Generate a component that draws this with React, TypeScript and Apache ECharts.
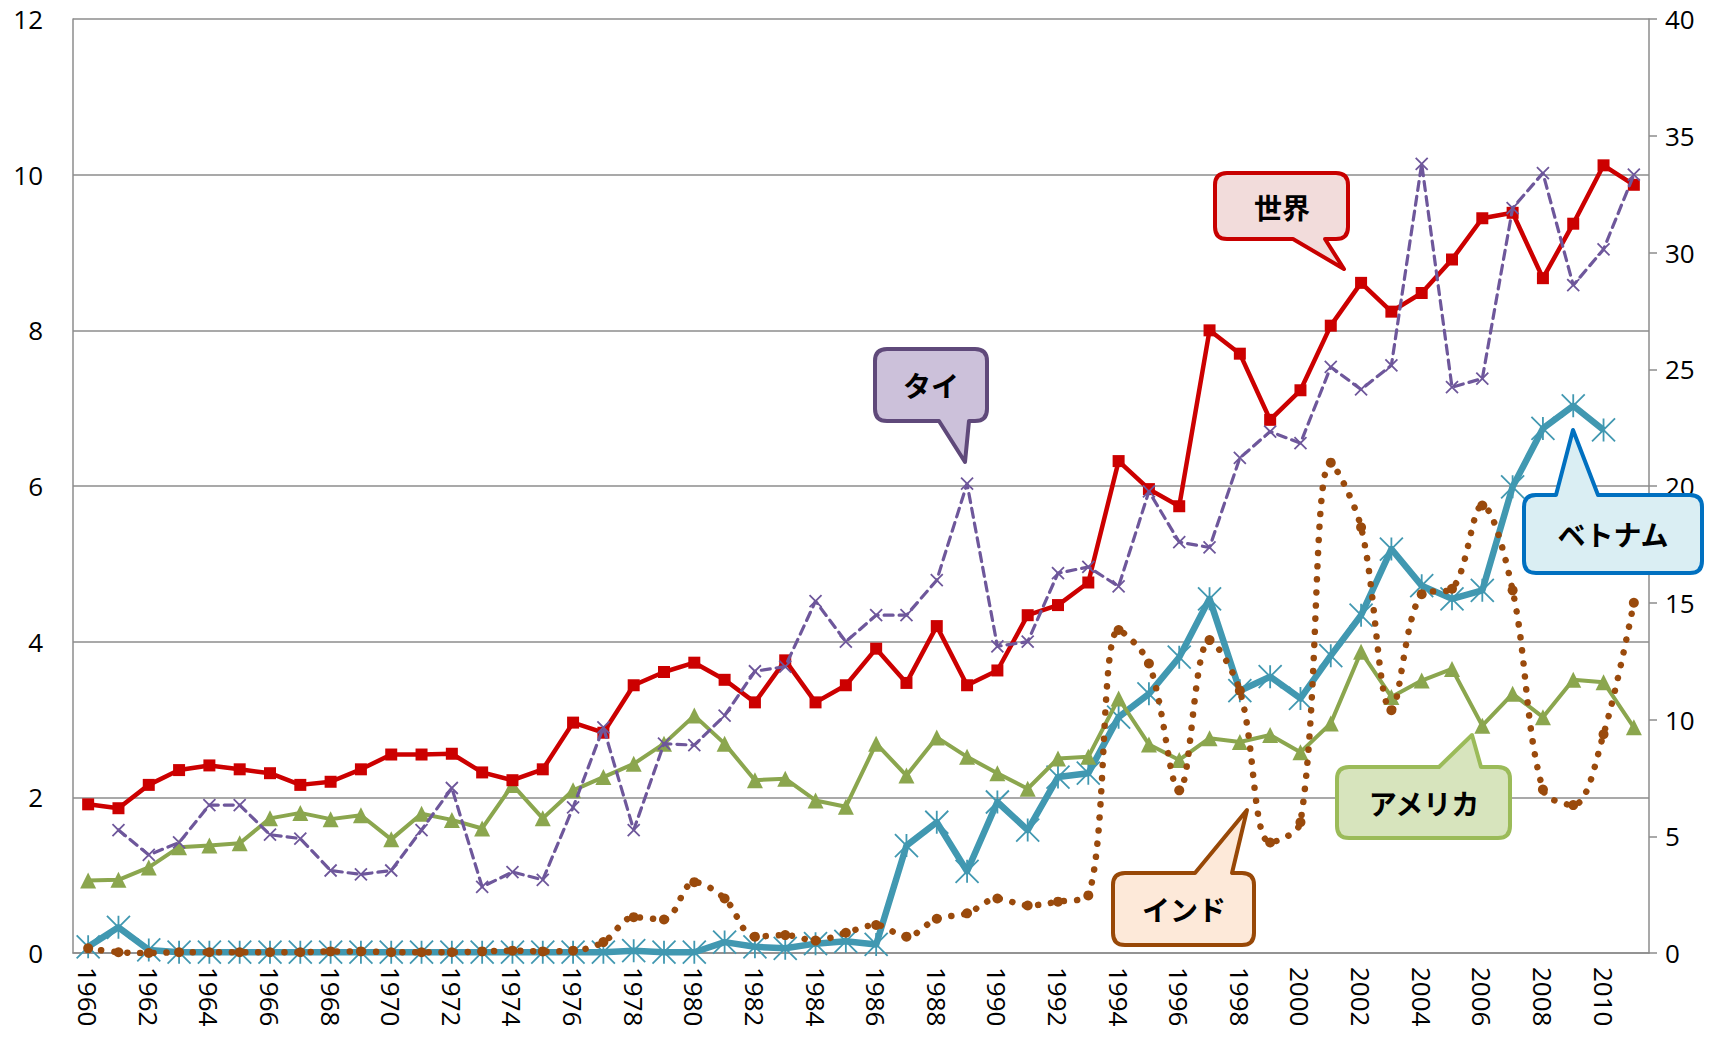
import React, { useEffect, useRef } from "react";
import * as echarts from "echarts";

const years = [
  "1960","1961","1962","1963","1964","1965","1966","1967","1968","1969",
  "1970","1971","1972","1973","1974","1975","1976","1977","1978","1979",
  "1980","1981","1982","1983","1984","1985","1986","1987","1988","1989",
  "1990","1991","1992","1993","1994","1995","1996","1997","1998","1999",
  "2000","2001","2002","2003","2004","2005","2006","2007","2008","2009",
  "2010","2011",
];

const world = [
  1.91, 1.86, 2.16, 2.35, 2.41, 2.36, 2.31, 2.16, 2.2, 2.36,
  2.55, 2.55, 2.56, 2.32, 2.22, 2.36, 2.96, 2.83, 3.44, 3.61,
  3.73, 3.51, 3.22, 3.76, 3.22, 3.44, 3.91, 3.47, 4.2, 3.44,
  3.63, 4.34, 4.47, 4.76, 6.32, 5.96, 5.74, 8.0, 7.7, 6.85,
  7.23, 8.06, 8.61, 8.24, 8.48, 8.91, 9.44, 9.51, 8.67, 9.37,
  10.12, 9.87,
];

const thai = [
  null, 1.58, 1.26, 1.42, 1.9, 1.9, 1.52, 1.47, 1.06, 1.01,
  1.06, 1.58, 2.12, 0.85, 1.04, 0.94, 1.87, 2.9, 1.58, 2.69,
  2.67, 3.05, 3.62, 3.68, 4.52, 4.0, 4.34, 4.34, 4.79, 6.03,
  3.94, 4.0, 4.88, 4.96, 4.71, 5.93, 5.28, 5.21, 6.36, 6.7,
  6.55, 7.53, 7.24, 7.55, 10.14, 7.27, 7.38, 9.57, 10.02, 8.58,
  9.04, 10.0,
];

const vietnam = [
  0.08, 0.33, 0.04, 0.01, 0.01, 0.01, 0.01, 0.01, 0.01, 0.01,
  0.01, 0.01, 0.01, 0.01, 0.01, 0.01, 0.01, 0.01, 0.03, 0.01,
  0.01, 0.14, 0.08, 0.06, 0.12, 0.15, 0.11, 1.38, 1.68, 1.05,
  1.94, 1.58, 2.26, 2.31, 3.03, 3.33, 3.8, 4.55, 3.37, 3.55,
  3.27, 3.82, 4.34, 5.19, 4.72, 4.55, 4.66, 5.99, 6.74, 7.03,
  6.72, null,
];

const india = [
  0.06, 0.01, 0.0, 0.01, 0.01, 0.01, 0.01, 0.01, 0.02, 0.02,
  0.01, 0.01, 0.01, 0.02, 0.03, 0.02, 0.03, 0.14, 0.46, 0.43,
  0.91, 0.7, 0.21, 0.23, 0.16, 0.26, 0.36, 0.21, 0.44, 0.51,
  0.7, 0.61, 0.66, 0.74, 4.15, 3.72, 2.09, 4.02, 3.37, 1.42,
  1.68, 6.3, 5.47, 3.12, 4.61, 4.68, 5.75, 4.66, 2.1, 1.9,
  2.81, 4.5,
];

const usa = [
  0.93, 0.94, 1.1, 1.36, 1.38, 1.41, 1.73, 1.8, 1.72, 1.77,
  1.46, 1.79, 1.71, 1.6, 2.16, 1.73, 2.09, 2.26, 2.43, 2.69,
  3.05, 2.69, 2.22, 2.24, 1.96, 1.88, 2.69, 2.28, 2.77, 2.52,
  2.31, 2.11, 2.5, 2.52, 3.27, 2.68, 2.48, 2.76, 2.71, 2.8,
  2.58, 2.95, 3.87, 3.29, 3.5, 3.65, 2.92, 3.33, 3.03, 3.51,
  3.48, 2.9,
];

const leftMax = 12;
const leftStep = 2;
const rightMax = 40;
const rightStep = 5;

const C_WORLD = "#CC0000";
const C_THAI = "#6E579B";
const C_VIET = "#4198B1";
const C_INDIA = "#9A4A0C";
const C_USA = "#8BA64E";
const GRID_GRAY = "#8C8C8C";

type Callout = {
  id: string;
  text: string;
  x: number; y: number; w: number; h: number;
  edge: "top" | "bottom";
  b1: number; b2: number; tx: number; ty: number;
  fill: string; stroke: string;
  cx: number; cy: number;
};

const callouts: Callout[] = [
  { id: "co_world", text: "世界", x: 1215, y: 173, w: 133, h: 66, edge: "bottom", b1: 1293, b2: 1325, tx: 1344, ty: 269, fill: "#F2DCDB", stroke: "#C80000", cx: 1282, cy: 207 },
  { id: "co_thai", text: "タイ", x: 875, y: 349, w: 112, h: 72, edge: "bottom", b1: 939, b2: 969, tx: 965, ty: 462, fill: "#CCC1DA", stroke: "#5F497A", cx: 931, cy: 385 },
  { id: "co_viet", text: "ベトナム", x: 1524, y: 495, w: 178, h: 78, edge: "top", b1: 1556, b2: 1598, tx: 1573, ty: 430, fill: "#DAEEF3", stroke: "#0070C0", cx: 1613, cy: 534 },
  { id: "co_india", text: "インド", x: 1113, y: 873, w: 141, h: 72, edge: "top", b1: 1195, b2: 1232, tx: 1247, ty: 810, fill: "#FDE9D9", stroke: "#984807", cx: 1184, cy: 909 },
  { id: "co_usa", text: "アメリカ", x: 1337, y: 767, w: 173, h: 71, edge: "top", b1: 1439, b2: 1481, tx: 1472, ty: 735, fill: "#D7E4BD", stroke: "#9BBB59", cx: 1424, cy: 803 },
];

function calloutPath(c: Callout): string {
  const r = 12;
  const { x, y, w, h } = c;
  let d = `M${x + r} ${y}`;
  if (c.edge === "top") d += ` L${c.b1} ${y} L${c.tx} ${c.ty} L${c.b2} ${y}`;
  d += ` L${x + w - r} ${y} Q${x + w} ${y} ${x + w} ${y + r}`;
  d += ` L${x + w} ${y + h - r} Q${x + w} ${y + h} ${x + w - r} ${y + h}`;
  if (c.edge === "bottom") d += ` L${c.b2} ${y + h} L${c.tx} ${c.ty} L${c.b1} ${y + h}`;
  d += ` L${x + r} ${y + h} Q${x} ${y + h} ${x} ${y + h - r}`;
  d += ` L${x} ${y + r} Q${x} ${y} ${x + r} ${y} Z`;
  return d;
}

export default function App() {
  const ref = useRef<HTMLDivElement>(null);

  useEffect(() => {
    document.body.style.margin = "0";
    if (!ref.current) return;
    callouts.forEach((c) => {
      echarts.graphic.registerShape(c.id, echarts.graphic.extendPath(calloutPath(c), {}) as any);
    });
    const chart = echarts.init(ref.current, null, { renderer: "svg" });
    const labelFont = { fontFamily: "'Open Sans', sans-serif", fontSize: 26, color: "#000" };

    const graphics: any[] = [];
    callouts.forEach((c) => {
      graphics.push({
        type: c.id,
        x: 0,
        y: 0,
        z: 100,
        style: { fill: c.fill, stroke: c.stroke, lineWidth: 4, lineJoin: "round" },
      });
      graphics.push({
        type: "text",
        x: c.cx,
        y: c.cy,
        z: 101,
        style: {
          text: c.text,
          fill: "#000",
          fontSize: 28,
          fontWeight: "bold",
          fontFamily: "'Noto Sans CJK JP', sans-serif",
          align: "center",
          verticalAlign: "middle",
        },
      });
    });

    const option: any = {
      animation: false,
      backgroundColor: "#fff",
      grid: { left: 73, right: 81, top: 19, bottom: 88, containLabel: false },
      xAxis: {
        type: "category",
        data: years,
        boundaryGap: true,
        axisLine: { show: true, lineStyle: { color: GRID_GRAY, width: 1.5 } },
        axisTick: { show: false },
        axisLabel: { ...labelFont, interval: 1, rotate: -90, margin: 14 },
        splitLine: { show: false },
      },
      yAxis: [
        {
          type: "value",
          min: 0,
          max: leftMax,
          interval: leftStep,
          position: "left",
          axisLine: { show: true, lineStyle: { color: GRID_GRAY, width: 1.5 } },
          axisTick: { show: false },
          axisLabel: { ...labelFont, margin: 30 },
          splitLine: { show: true, lineStyle: { color: GRID_GRAY, width: 1.5 } },
        },
        {
          type: "value",
          min: 0,
          max: rightMax,
          interval: rightStep,
          position: "right",
          axisLine: { show: true, lineStyle: { color: GRID_GRAY, width: 1.5 } },
          axisTick: { show: true, length: 8, inside: false, lineStyle: { color: GRID_GRAY, width: 1.5 } },
          axisLabel: { ...labelFont, margin: 16 },
          splitLine: { show: false },
        },
      ],
      series: [
        {
          name: "ベトナム",
          type: "line",
          data: vietnam,
          showAllSymbol: true,
          symbol: "path://M0 0L20 20M20 0L0 20M10 0L10 20",
          symbolSize: 23,
          itemStyle: { color: C_VIET, borderColor: C_VIET, borderWidth: 1.8 },
          lineStyle: { color: C_VIET, width: 6.5, join: "round" },
          z: 3,
        },
        {
          name: "アメリカ",
          type: "line",
          data: usa,
          showAllSymbol: true,
          symbol: "triangle",
          symbolSize: 16,
          itemStyle: { color: C_USA },
          lineStyle: { color: C_USA, width: 4, join: "round" },
          z: 4,
        },
        {
          name: "世界",
          type: "line",
          data: world,
          showAllSymbol: true,
          symbol: "rect",
          symbolSize: 12,
          itemStyle: { color: C_WORLD },
          lineStyle: { color: C_WORLD, width: 4.5, join: "round" },
          z: 5,
        },
        {
          name: "タイ",
          type: "line",
          data: thai,
          showAllSymbol: true,
          symbol: "path://M0 0L10 10M10 0L0 10",
          symbolSize: 12,
          itemStyle: { color: C_THAI, borderColor: C_THAI, borderWidth: 1.8 },
          lineStyle: { color: C_THAI, width: 3.2, type: [9, 6], cap: "round" },
          z: 6,
        },
        {
          name: "インド",
          type: "line",
          data: india,
          smooth: 0.35,
          showAllSymbol: true,
          symbol: "circle",
          symbolSize: 10,
          itemStyle: { color: C_INDIA },
          lineStyle: { color: C_INDIA, width: 6.5, type: [0.1, 13], cap: "round" },
          z: 7,
        },
      ],
      graphic: graphics,
    };
    chart.setOption(option);
    return () => chart.dispose();
  }, []);

  return <div ref={ref} style={{ width: 1730, height: 1041 }} />;
}
